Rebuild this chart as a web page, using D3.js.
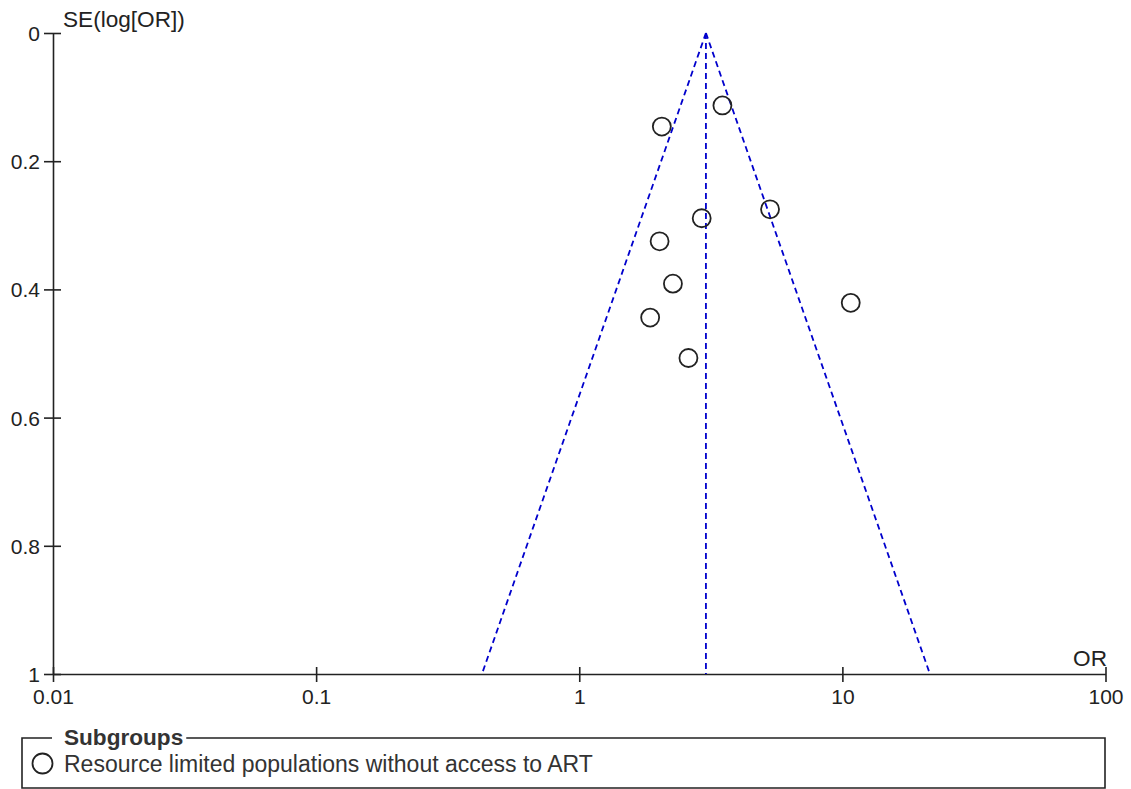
<!DOCTYPE html>
<html>
<head>
<meta charset="utf-8">
<script src="https://cdn.jsdelivr.net/npm/d3@7"></script>
<style>
  html, body { margin: 0; padding: 0; background: #fff; }
  svg { display: block; font-family: "Liberation Sans", Arial, sans-serif; }
</style>
</head>
<body>
<svg id="chart" width="1131" height="789"></svg>
<script>
// Study estimates: odds ratio and standard error of log(OR)
const oddsRatios = [3.50, 2.06, 5.31, 2.92, 2.02, 2.27, 10.76, 1.86, 2.60];
const standardErrors = [0.113, 0.146, 0.275, 0.289, 0.325, 0.391, 0.421, 0.444, 0.507];
const pooledOR = 3.03;

const xTicks = [0.01, 0.1, 1, 10, 100];
const xTickLabels = ["0.01", "0.1", "1", "10", "100"];
const yTicks = [0, 0.2, 0.4, 0.6, 0.8, 1];
const yTickLabels = ["0", "0.2", "0.4", "0.6", "0.8", "1"];
const legendTitle = "Subgroups";
const legendLabel = "Resource limited populations without access to ART";

const svg = d3.select("#chart");
const axisColor = "#222";
const textColor = "#222";
const funnelColor = "#0000cc";
const tickFont = 21;
const labelFont = 22.6;
const legendFont = 23;

const x = d3.scaleLog().domain([0.01, 100]).range([53, 1105.5]);
const y = d3.scaleLinear().domain([0, 1]).range([33, 674]);

// Axes
const xAxis = d3.axisBottom(x).tickValues(xTicks).tickFormat((d, i) => xTickLabels[i]).tickSize(0);
const gx = svg.append("g").attr("transform", `translate(0,${y(1)})`).call(xAxis);
gx.select(".domain").attr("stroke", axisColor).attr("stroke-width", 1.6);
gx.selectAll(".tick line").remove();
gx.selectAll(".tick text").attr("font-size", tickFont).attr("fill", textColor).attr("dy", 0).attr("y", 30);
gx.selectAll(".tick").append("line")
  .attr("y1", -7).attr("y2", 8).attr("stroke", axisColor).attr("stroke-width", 1.6);

const yAxis = d3.axisLeft(y).tickValues(yTicks).tickFormat((d, i) => yTickLabels[i]).tickSize(0);
const gy = svg.append("g").attr("transform", `translate(${x(0.01)},0)`).call(yAxis);
gy.select(".domain").attr("stroke", axisColor).attr("stroke-width", 1.6);
gy.selectAll(".tick line").remove();
gy.selectAll(".tick text").attr("font-size", tickFont).attr("fill", textColor).attr("x", -13).attr("dy", "0.36em");
gy.selectAll(".tick").append("line")
  .attr("x1", -9).attr("x2", 8).attr("stroke", axisColor).attr("stroke-width", 1.6);

// Axis titles
svg.append("text").attr("x", 63).attr("y", 27).attr("font-size", labelFont).attr("fill", textColor).text("SE(log[OR])");
svg.append("text").attr("x", 1107).attr("y", 666).attr("text-anchor", "end").attr("font-size", labelFont).attr("fill", textColor).text("OR");

// Funnel: pooled estimate and 95% pseudo-confidence limits
const z = 1.96;
const funnelLeft = [[pooledOR, 0], [pooledOR * Math.exp(-z * 1), 1]];
const funnelRight = [[pooledOR, 0], [pooledOR * Math.exp(z * 1), 1]];
const center = [[pooledOR, 0], [pooledOR, 1]];
const line = d3.line().x(d => x(d[0])).y(d => y(d[1]));
[funnelLeft, funnelRight, center].forEach(seg => {
  svg.append("path").attr("d", line(seg))
    .attr("fill", "none").attr("stroke", funnelColor)
    .attr("stroke-width", 1.8).attr("stroke-dasharray", "6,4");
});

// Study points
svg.append("g").selectAll("circle")
  .data(oddsRatios.map((or, i) => ({ or, se: standardErrors[i] })))
  .join("circle")
  .attr("cx", d => x(d.or)).attr("cy", d => y(d.se)).attr("r", 9)
  .attr("fill", "none").attr("stroke", "#222").attr("stroke-width", 1.8);

// Legend box
const lg = svg.append("g");
const titleX = 64;
const title = lg.append("text").attr("x", titleX).attr("y", 745)
  .attr("font-size", labelFont).attr("font-weight", "bold").attr("fill", "#333").text(legendTitle);
const tw = title.node().getComputedTextLength();
lg.append("path")
  .attr("d", `M${titleX - 12},738 H22 V788 H1105 V738 H${titleX + tw + 3}`)
  .attr("fill", "none").attr("stroke", "#222").attr("stroke-width", 1.6);
lg.append("circle").attr("cx", 42.5).attr("cy", 763.5).attr("r", 10)
  .attr("fill", "none").attr("stroke", "#222").attr("stroke-width", 1.8);
lg.append("text").attr("x", 64).attr("y", 772).attr("font-size", legendFont).attr("fill", "#333").text(legendLabel);
</script>
</body>
</html>
